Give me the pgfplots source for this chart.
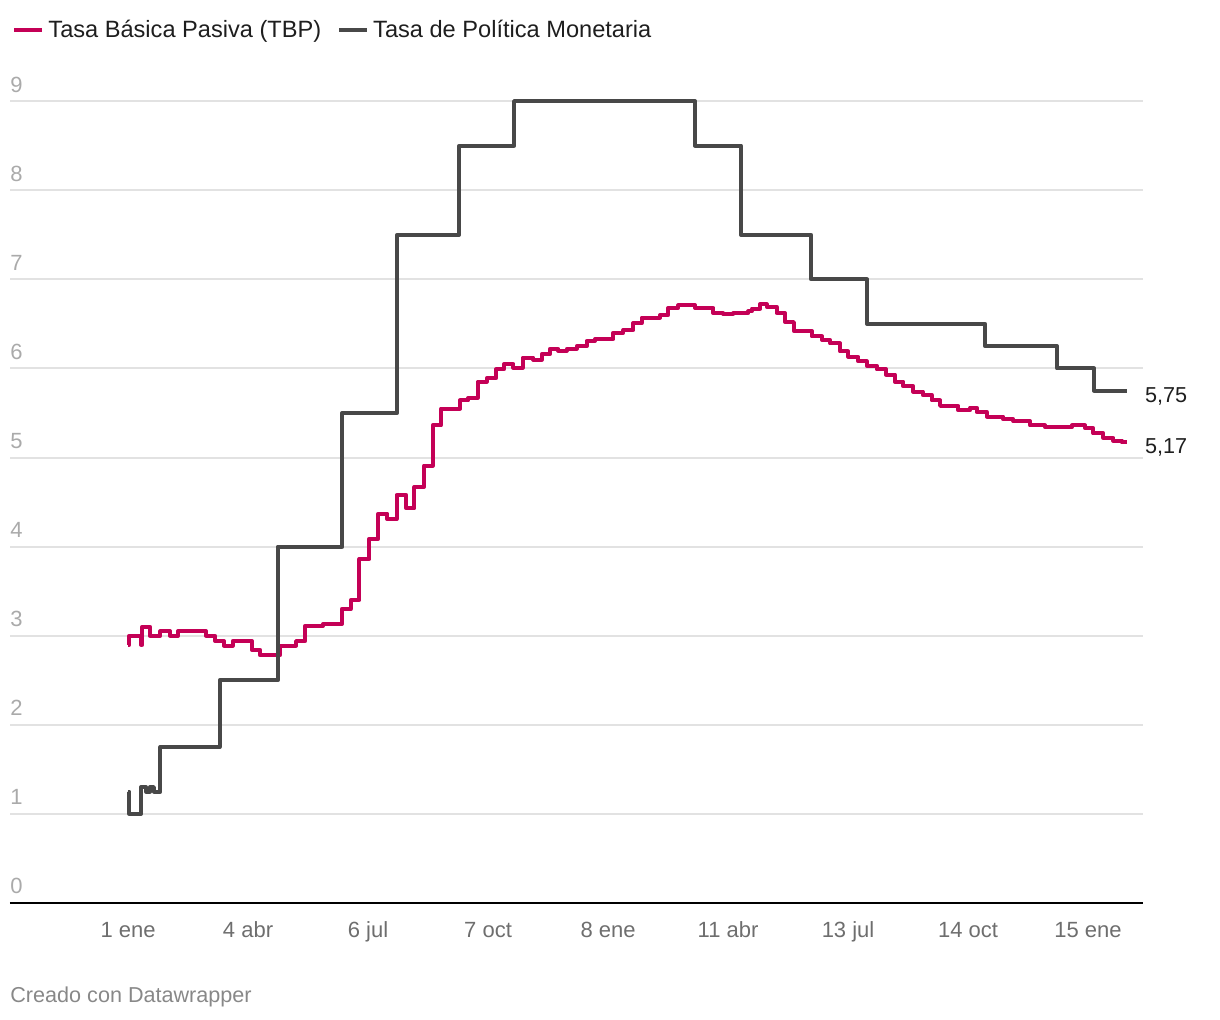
\documentclass[border=0pt]{standalone}
\usepackage{fontspec}
\setmainfont{Liberation Sans}
\usepackage{pgfplots}
\pgfplotsset{compat=1.18}
\definecolor{tbp}{RGB}{196,0,86}
\definecolor{tpm}{RGB}{72,72,72}
\definecolor{gridc}{RGB}{226,226,226}
\definecolor{ytk}{RGB}{170,170,170}
\definecolor{xtk}{RGB}{110,110,110}
\definecolor{labc}{RGB}{30,30,30}
\definecolor{credc}{RGB}{136,136,136}
\begin{document}
\begin{tikzpicture}
\path[use as bounding box] (0,0) rectangle (610pt,510pt);
\begin{axis}[
 at={(5pt,58.5pt)}, anchor=south west,
 scale only axis, width=566.5pt, height=423.2pt,
 xmin=-91.5, xmax=786.6, ymin=0, ymax=9.5,
 axis line style={draw=none},
 ytick={0,1,...,9}, ymajorgrids, grid style={gridc, line width=1pt},
 major tick length=0pt,
 xtick={0,93,186,279,372,465,558,651,744},
 xticklabels={1 ene,4 abr,6 jul,7 oct,8 ene,11 abr,13 jul,14 oct,15 ene},
 xticklabel style={anchor=base, yshift=-17.5pt, font=\fontsize{11}{12}\selectfont, text=xtk, inner sep=0pt},
 yticklabel style={anchor=base west, inner sep=0pt, yshift=4.5pt, font=\fontsize{11}{12}\selectfont, text=ytk},
 /pgf/number format/assume math mode=true,
 clip=false,
 legend columns=2,
 legend style={at={(0.0018,1.0314)}, anchor=west, draw=none, fill=none, inner sep=0pt,
   font=\fontsize{11.8}{13}\selectfont, text=labc,
   /tikz/every even column/.append style={column sep=6pt}},
 legend image code/.code={\draw[#1, line width=2pt] (0pt,0pt) -- (14pt,0pt);},
]
\addplot[const plot, tbp, line width=2pt, line join=round] coordinates {
(0,2.90) (1,3.00) (10,2.90) (11,3.10) (17,3.00) (25,3.05) (32.6,3.00) (38.8,3.05)
(60.5,3.00) (67.4,2.94) (74.4,2.89) (81.1,2.94) (95.9,2.84) (102.3,2.78) (117.8,2.89)
(130.2,2.94) (137.2,3.11) (151.1,3.13) (165.6,3.30) (172.6,3.40) (179.3,3.86) (187,4.09)
(194,4.37) (200.9,4.31) (208.2,4.58) (215.5,4.43) (221.9,4.67) (229.4,4.91) (236.1,5.36)
(242.6,5.55) (257.3,5.64) (263.7,5.67) (271,5.85) (278,5.89) (285.2,5.99) (291.4,6.05)
(298.6,6.01) (305.9,6.12) (314.1,6.10) (320.6,6.16) (327,6.22) (333.5,6.20) (340,6.22)
(347.7,6.25) (355.5,6.31) (361.9,6.33) (376.1,6.40) (383.9,6.43) (391.6,6.51) (398.1,6.57)
(412.3,6.60) (418.7,6.68) (426.5,6.71) (439.4,6.68) (453.6,6.62) (461.4,6.61) (469.1,6.62)
(480.7,6.64) (483.4,6.67) (489.8,6.72) (495,6.69) (502.7,6.62) (509.2,6.52) (516,6.42)
(529.9,6.36) (537.8,6.32) (544,6.28) (551.8,6.19) (558.2,6.13) (566,6.08) (572.5,6.03)
(580.2,5.99) (587.5,5.93) (594.4,5.85) (600.9,5.80) (608.6,5.74) (615.9,5.70) (622.9,5.64)
(629.3,5.58) (643.5,5.53) (652.6,5.56) (657.7,5.51) (665.5,5.46) (678.3,5.43) (686.1,5.41)
(699,5.36) (710.7,5.34) (731.4,5.36) (741.7,5.33) (748.1,5.27) (755.9,5.22) (763.6,5.19)
(770.1,5.17) (774,5.17)
};
\addlegendentry{Tasa Básica Pasiva (TBP)}
\addplot[const plot, tpm, line width=2pt, line join=round] coordinates {
(0,1.25) (1,1.00) (10,1.30) (14,1.25) (17,1.30) (20,1.25) (25,1.75) (71,2.50)
(116,4.00) (166,5.50) (208.5,7.50) (256.6,8.50) (299.2,9.00) (439.4,8.50) (475.1,7.50)
(529.3,7.00) (572.7,6.50) (664.2,6.25) (720,6.00) (748.7,5.75) (774,5.75)
};
\addlegendentry{Tasa de Política Monetaria}
\draw[black, line width=1pt] (rel axis cs:0,0) -- (rel axis cs:1,0);
\node[anchor=base west, inner sep=0pt, font=\fontsize{10.8}{12}\selectfont, text=labc, xshift=9pt, yshift=-5.8pt] at (axis cs:774,5.75) {5,75};
\node[anchor=base west, inner sep=0pt, font=\fontsize{10.8}{12}\selectfont, text=labc, xshift=9pt, yshift=-5.8pt] at (axis cs:774,5.17) {5,17};
\end{axis}
\node[anchor=base west, inner sep=0pt, font=\fontsize{10.8}{12}\selectfont, text=credc] at (5pt,8.5pt) {Creado con Datawrapper};
\end{tikzpicture}
\end{document}
